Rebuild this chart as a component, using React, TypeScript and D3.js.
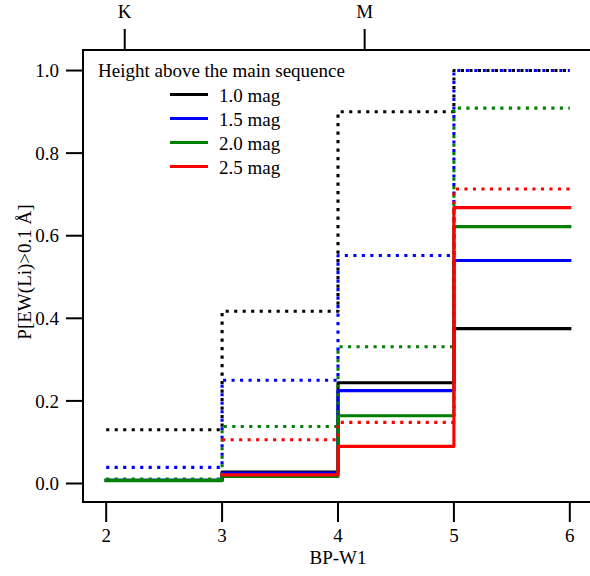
import React from "react";
import * as d3 from "d3";

const binEdges = [2, 3, 4, 5, 6];
const heightLabels = ["1.0 mag", "1.5 mag", "2.0 mag", "2.5 mag"];
const seriesColors = ["#000000", "#0000ff", "#008000", "#ff0000"];
// values per bin [2-3, 3-4, 4-5, 5-6]; null = no data
const solid10 = [0.008, 0.028, 0.244, 0.375];
const solid15 = [0.008, 0.025, 0.225, 0.54];
const solid20 = [0.007, 0.017, 0.164, 0.622];
const solid25 = [null, 0.021, 0.09, 0.668];
const dotted10 = [0.13, 0.417, 0.9, 1.0];
const dotted15 = [0.039, 0.25, 0.552, 1.0];
const dotted20 = [0.011, 0.138, 0.331, 0.909];
const dotted25 = [null, 0.106, 0.148, 0.713];
const xTicks = [2, 3, 4, 5, 6];
const yTicks = [0, 0.2, 0.4, 0.6, 0.8, 1.0];
const topTicks = [
  { label: "K", value: 2.16 },
  { label: "M", value: 4.23 },
];

const W = 590;
const H = 576;
const L = 83, R = 593, T = 50, B = 502;
const FONT = "'Liberation Serif', 'Times New Roman', serif";

export default function App() {
  const x = d3.scaleLinear().domain([1.8, 6.2]).range([L, R]);
  const y = d3.scaleLinear().domain([-0.0448, 1.0497]).range([B, T]);

  const solids = [solid10, solid15, solid20, solid25];
  const dotteds = [dotted10, dotted15, dotted20, dotted25];

  const toPts = (vals: (number | null)[]) => {
    const pts: [number, number | null][] = vals.map((v, i) => [binEdges[i], v]);
    pts.push([binEdges[vals.length], vals[vals.length - 1]]);
    return pts;
  };
  const line = d3
    .line<[number, number | null]>()
    .defined((d) => d[1] != null)
    .x((d) => x(d[0]))
    .y((d) => y(d[1] as number))
    .curve(d3.curveStepAfter);

  const order: { vals: (number | null)[]; color: string; dotted: boolean }[] = [];
  for (let i = 0; i < 4; i++) {
    order.push({ vals: solids[i], color: seriesColors[i], dotted: false });
    order.push({ vals: dotteds[i], color: seriesColors[i], dotted: true });
  }

  return (
    <svg
      width={W}
      height={H}
      style={{ position: "absolute", left: 0, top: 0, background: "#fff" }}
      fontFamily={FONT}
    >
      <rect x={0} y={0} width={W} height={H} fill="#fff" />
      {order.map((s, i) => (
        <path
          key={i}
          d={line(toPts(s.vals)) || ""}
          fill="none"
          stroke={s.color}
          strokeWidth={3.1}
          strokeDasharray={s.dotted ? "3.1 5.4" : undefined}
          strokeLinecap={s.dotted ? "butt" : "square"}
          strokeLinejoin="round"
        />
      ))}
      {/* frame */}
      <rect x={L} y={T} width={R - L} height={B - T} fill="none" stroke="#000" strokeWidth={2} />
      {/* y axis */}
      {yTicks.map((t) => (
        <g key={t}>
          <line x1={L - 17} x2={L} y1={y(t)} y2={y(t)} stroke="#000" strokeWidth={2} />
          <text x={L - 24} y={y(t)} dy="0.35em" textAnchor="end" fontSize={19}>
            {t.toFixed(1)}
          </text>
        </g>
      ))}
      {/* x axis */}
      {xTicks.map((t) => (
        <g key={t}>
          <line x1={x(t)} x2={x(t)} y1={B} y2={B + 20} stroke="#000" strokeWidth={2} />
          <text x={x(t)} y={542} textAnchor="middle" fontSize={19}>
            {t}
          </text>
        </g>
      ))}
      {/* top ticks */}
      {topTicks.map((t) => (
        <g key={t.label}>
          <line x1={x(t.value)} x2={x(t.value)} y1={T} y2={T - 21} stroke="#000" strokeWidth={2} />
          <text x={x(t.value)} y={18} textAnchor="middle" fontSize={19}>
            {t.label}
          </text>
        </g>
      ))}
      <text x={(L + R) / 2} y={564} textAnchor="middle" fontSize={19}>
        BP-W1
      </text>
      <text
        transform={`translate(31, ${(T + B) / 2 - 4}) rotate(-90)`}
        textAnchor="middle"
        fontSize={19}
      >
        P[EW(Li)&gt;0.1 Å]
      </text>
      {/* legend */}
      <text x={98} y={77} fontSize={19}>
        Height above the main sequence
      </text>
      {heightLabels.map((lab, i) => (
        <g key={lab}>
          <line
            x1={170}
            x2={208}
            y1={94.5 + i * 24}
            y2={94.5 + i * 24}
            stroke={seriesColors[i]}
            strokeWidth={3.1}
          />
          <text x={219} y={102 + i * 24} fontSize={19}>
            {lab}
          </text>
        </g>
      ))}
    </svg>
  );
}
